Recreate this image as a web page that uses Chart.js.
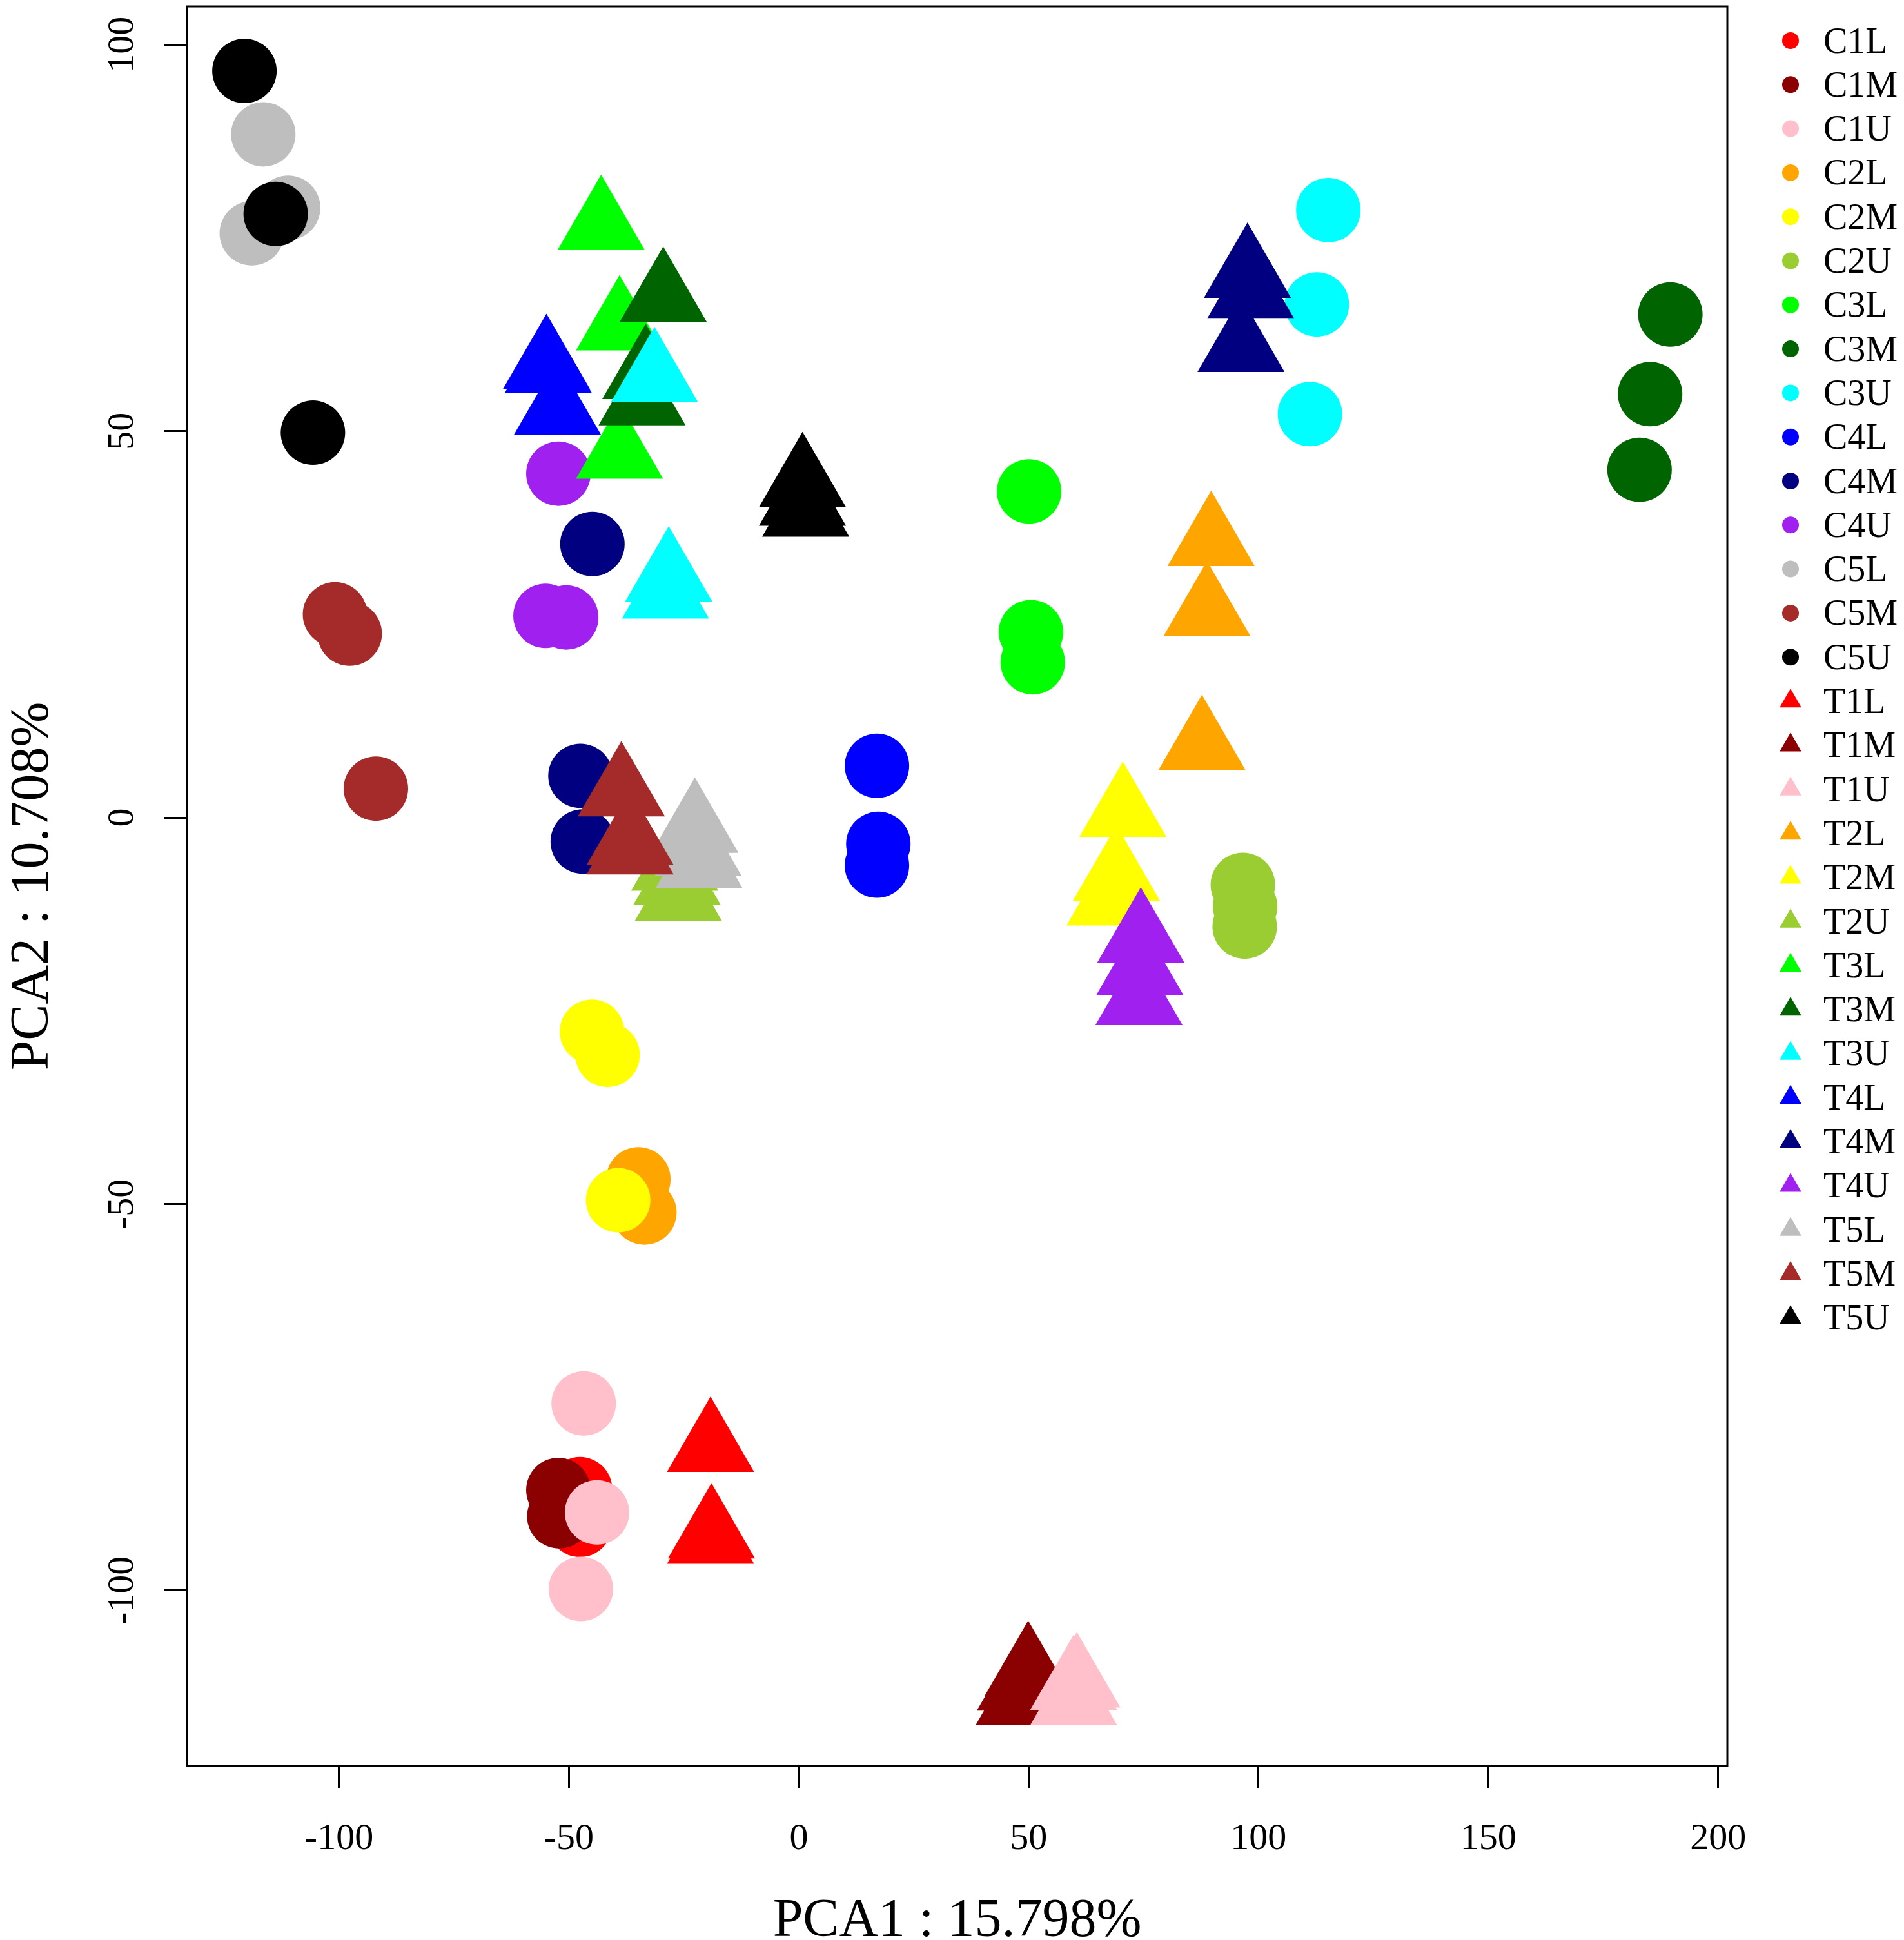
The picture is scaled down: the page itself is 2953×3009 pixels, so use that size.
<!DOCTYPE html>
<html>
<head>
<meta charset="utf-8">
<script src="https://cdn.jsdelivr.net/npm/chart.js@4.4.0/dist/chart.umd.min.js"></script>
<style>
  html, body { margin: 0; padding: 0; background: #fff; }
  canvas { display: block; }
</style>
</head>
<body>
<canvas id="pca" width="2953" height="3009"></canvas>
<script>
// sample groups, in plotting order (later groups are drawn on top)
const groups = ['C1L', 'C1M', 'C1U', 'C2L', 'C2M', 'C2U', 'C3L', 'C3M', 'C3U', 'C4L',
  'C4M', 'C4U', 'C5L', 'C5M', 'C5U', 'T1L', 'T1M', 'T1U', 'T2L', 'T2M',
  'T2U', 'T3L', 'T3M', 'T3U', 'T4L', 'T4M', 'T4U', 'T5L', 'T5M', 'T5U'];

// R colour names: red, darkred, pink, orange, yellow, yellowgreen, green, darkgreen,
// cyan, blue, navy, purple, gray, brown, black (same for C and T)
const palette = ['#FF0000', '#8B0000', '#FFC0CB', '#FFA500', '#FFFF00', '#9ACD32', '#00FF00', '#006400',
  '#00FFFF', '#0000FF', '#000080', '#A020F0', '#BEBEBE', '#A52A2A', '#000000'];

// PCA1 scores, three replicates per group
const pca1 = [
  [-47.6, -47.6, -48.0],   // C1L
  [-52.3, -52.1, -51.6],   // C1M
  [-46.8, -43.9, -47.4],   // C1U
  [-34.9, -33.6, -35.8],   // C2L
  [-45.0, -41.6, -39.3],   // C2M
  [96.6, 97.1, 97.0],      // C2U
  [50.1, 50.5, 50.9],      // C3L
  [189.6, 185.2, 182.9],   // C3M
  [115.2, 112.7, 111.2],   // C3U
  [17.0, 17.3, 17.0],      // C4L
  [-44.9, -47.5, -47.0],   // C4M
  [-52.3, -55.1, -50.6],   // C4U
  [-116.5, -111.1, -119.0],// C5L
  [-100.9, -97.7, -92.0],  // C5M
  [-120.6, -113.8, -105.7],// C5U
  [-19.2, -19.2, -19.0],   // T1L
  [49.9, 48.2, 48.0],      // T1M
  [60.5, 59.8, 59.8],      // T1U
  [89.7, 88.8, 87.7],      // T2L
  [70.5, 69.1, 67.7],      // T2M
  [-27.0, -26.2, -26.5],   // T2U
  [-43.0, -39.0, -39.0],   // T3L
  [-29.5, -33.3, -34.1],   // T3M
  [-31.4, -28.3, -29.0],   // T3U
  [-54.9, -52.5, -54.5],   // T4L
  [97.6, 98.3, 96.2],      // T4M
  [74.4, 74.2, 74.0],      // T4U
  [-22.6, -21.9, -21.7],   // T5L
  [-38.6, -36.7, -36.7],   // T5M
  [0.8, 0.8, 1.5]          // T5U
];

// PCA2 scores, same layout as pca1
const pca2 = [
  [-86.9, -91.5, -89.0],   // C1L
  [-87.0, -90.4, -88.6],   // C1M
  [-75.8, -89.9, -99.8],   // C1U
  [-46.8, -51.1, -49.0],   // C2L
  [-27.7, -30.7, -49.5],   // C2M
  [-8.7, -11.5, -14.1],    // C2U
  [42.2, 24.0, 20.1],      // C3L
  [65.1, 54.8, 45.0],      // C3M
  [78.6, 66.4, 52.2],      // C3U
  [6.7, -3.4, -6.2],       // C4L
  [35.4, 5.4, -3.1],       // C4M
  [44.5, 26.1, 25.9],      // C4U
  [88.4, 78.9, 75.6],      // C5L
  [26.3, 23.8, 3.75],      // C5M
  [96.6, 78.1, 49.8],      // C5U
  [-81.4, -93.3, -92.6],   // T1L
  [-110.4, -112.3, -114.1],// T1M
  [-111.9, -112.2, -114.2],// T1U
  [35.8, 26.7, 9.4],       // T2L
  [0.75, -7.5, -10.7],     // T2M
  [-6.2, -10.1, -8.0],     // T2U
  [76.7, 63.7, 47.1],      // T3L
  [67.4, 57.4, 54.0],      // T3M
  [57.0, 31.2, 29.0],      // T3U
  [58.7, 52.8, 58.2],      // T4L
  [70.5, 67.8, 60.9],      // T4M
  [-15.5, -19.7, -23.6],   // T4U
  [-1.3, -4.3, -5.9],      // T5L
  [3.4, -2.9, -4.1],       // T5M
  [43.4, 41.0, 39.6]       // T5U
];

const xTitle = 'PCA1 : 15.798%';
const yTitle = 'PCA2 : 10.708%';
const FONT = '"Liberation Serif", "Times New Roman", serif';

function shapeOf(name) { return name[0] === 'C' ? 'circle' : 'triangle'; }

const datasets = groups.map((g, i) => ({
  label: g,
  data: pca1[i].map((x, k) => ({ x: x, y: pca2[i][k] })),
  pointStyle: shapeOf(g),
  pointRadius: shapeOf(g) === 'circle' ? 50 : 78,
  backgroundColor: palette[i % 15],
  borderWidth: 0,
  showLine: false,
  order: groups.length - i   // later groups on top, like R
}));

// axis labels, box and legend drawn the way base R lays them out
const rDecor = {
  id: 'rDecor',
  afterDraw(chart) {
    const ctx = chart.ctx;
    const a = chart.chartArea;
    const xs = chart.scales.x, ys = chart.scales.y;
    ctx.save();
    ctx.strokeStyle = '#000';
    ctx.lineWidth = 3;
    ctx.strokeRect(a.left, a.top, a.right - a.left, a.bottom - a.top);

    ctx.fillStyle = '#000';
    ctx.textAlign = 'center';
    ctx.textBaseline = 'alphabetic';
    ctx.font = '58px ' + FONT;
    xs.ticks.forEach(t => {
      ctx.fillText(String(t.value), xs.getPixelForValue(t.value), a.bottom + 109 + 19.5);
    });
    ys.ticks.forEach(t => {
      ctx.save();
      ctx.translate(a.left - 104, ys.getPixelForValue(t.value));
      ctx.rotate(-Math.PI / 2);
      ctx.fillText(String(t.value), 0, 19.5);
      ctx.restore();
    });

    ctx.font = '84px ' + FONT;
    ctx.fillText(xTitle, (a.left + a.right) / 2, a.bottom + 236 + 28);
    ctx.save();
    ctx.translate(46, (a.top + a.bottom) / 2);
    ctx.rotate(-Math.PI / 2);
    ctx.fillText(yTitle, 0, 28);
    ctx.restore();

    // legend
    ctx.font = '56px ' + FONT;
    ctx.textAlign = 'left';
    chart.data.datasets.forEach((ds, i) => {
      const cy = 63 + i * 68.3;
      ctx.fillStyle = ds.backgroundColor;
      Chart.helpers.drawPoint(ctx, {
        pointStyle: ds.pointStyle,
        radius: ds.pointStyle === 'circle' ? 13 : 19.5,
        rotation: 0,
        borderWidth: 0
      }, 2777, cy);
      ctx.fillStyle = '#000';
      ctx.fillText(ds.label, 2828, cy + 18.5);
    });
    ctx.restore();
  }
};

new Chart(document.getElementById('pca'), {
  type: 'scatter',
  data: { datasets: datasets },
  options: {
    responsive: false,
    animation: false,
    devicePixelRatio: 1,
    events: [],
    layout: { autoPadding: false, padding: { top: 10, right: 274, left: 0, bottom: 0 } },
    plugins: {
      legend: { display: false },
      tooltip: { enabled: false }
    },
    scales: {
      x: {
        type: 'linear',
        position: 'bottom',
        min: -133.1,
        max: 202,
        ticks: { stepSize: 50, display: false, includeBounds: false },
        grid: { drawOnChartArea: false, drawTicks: true, tickLength: 35, color: '#000', lineWidth: 3 },
        border: { display: false },
        afterFit: s => { s.height = 270; }
      },
      y: {
        type: 'linear',
        position: 'left',
        min: -122.7,
        max: 104.95,
        ticks: { stepSize: 50, display: false, includeBounds: false },
        grid: { drawOnChartArea: false, drawTicks: true, tickLength: 35, color: '#000', lineWidth: 3 },
        border: { display: false },
        afterFit: s => { s.width = 290; }
      }
    }
  },
  plugins: [rDecor]
});
</script>
</body>
</html>
